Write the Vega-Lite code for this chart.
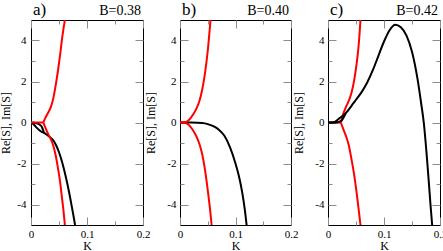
{
  "$schema": "https://vega.github.io/schema/vega-lite/v6.json",
  "padding": {"left": -1, "top": 0, "right": 0, "bottom": 0},
  "background": "white",
  "datasets": {
    "a": [
      {"curve": "b1", "col": "black", "K": 0, "S": 0},
      {"curve": "b1", "col": "black", "K": 0.005, "S": -0.01},
      {"curve": "b1", "col": "black", "K": 0.01, "S": -0.04},
      {"curve": "b1", "col": "black", "K": 0.015, "S": -0.1},
      {"curve": "b1", "col": "black", "K": 0.019, "S": -0.2},
      {"curve": "b1", "col": "black", "K": 0.023, "S": -0.5},
      {"curve": "b2", "col": "black", "K": 0, "S": 0},
      {"curve": "b2", "col": "black", "K": 0.005, "S": -0.1},
      {"curve": "b2", "col": "black", "K": 0.01, "S": -0.25},
      {"curve": "b2", "col": "black", "K": 0.015, "S": -0.38},
      {"curve": "b2", "col": "black", "K": 0.019, "S": -0.46},
      {"curve": "b2", "col": "black", "K": 0.023, "S": -0.5},
      {"curve": "b2", "col": "black", "K": 0.03, "S": -0.63},
      {"curve": "b2", "col": "black", "K": 0.035, "S": -0.74},
      {"curve": "b2", "col": "black", "K": 0.04, "S": -0.88},
      {"curve": "b2", "col": "black", "K": 0.045, "S": -1.12},
      {"curve": "b2", "col": "black", "K": 0.05, "S": -1.45},
      {"curve": "b2", "col": "black", "K": 0.055, "S": -1.88},
      {"curve": "b2", "col": "black", "K": 0.06, "S": -2.4},
      {"curve": "b2", "col": "black", "K": 0.065, "S": -3.0},
      {"curve": "b2", "col": "black", "K": 0.07, "S": -3.68},
      {"curve": "b2", "col": "black", "K": 0.075, "S": -4.42},
      {"curve": "b2", "col": "black", "K": 0.0787, "S": -5},
      {"curve": "r0", "col": "red", "K": 0, "S": 0},
      {"curve": "r0", "col": "red", "K": 0.022, "S": 0},
      {"curve": "r1", "col": "red", "K": 0.022, "S": 0},
      {"curve": "r1", "col": "red", "K": 0.026, "S": 0.25},
      {"curve": "r1", "col": "red", "K": 0.031, "S": 0.5},
      {"curve": "r1", "col": "red", "K": 0.036, "S": 0.8},
      {"curve": "r1", "col": "red", "K": 0.04, "S": 1.2},
      {"curve": "r1", "col": "red", "K": 0.044, "S": 1.8},
      {"curve": "r1", "col": "red", "K": 0.048, "S": 2.5},
      {"curve": "r1", "col": "red", "K": 0.052, "S": 3.3},
      {"curve": "r1", "col": "red", "K": 0.056, "S": 4.2},
      {"curve": "r1", "col": "red", "K": 0.0605, "S": 5},
      {"curve": "r2", "col": "red", "K": 0.022, "S": 0},
      {"curve": "r2", "col": "red", "K": 0.026, "S": -0.28},
      {"curve": "r2", "col": "red", "K": 0.031, "S": -0.58},
      {"curve": "r2", "col": "red", "K": 0.036, "S": -0.85},
      {"curve": "r2", "col": "red", "K": 0.04, "S": -1.15},
      {"curve": "r2", "col": "red", "K": 0.044, "S": -1.6},
      {"curve": "r2", "col": "red", "K": 0.048, "S": -2.2},
      {"curve": "r2", "col": "red", "K": 0.052, "S": -2.9},
      {"curve": "r2", "col": "red", "K": 0.055, "S": -3.6},
      {"curve": "r2", "col": "red", "K": 0.058, "S": -4.3},
      {"curve": "r2", "col": "red", "K": 0.0605, "S": -5}
    ],
    "b": [
      {"curve": "b1", "col": "black", "K": 0, "S": 0},
      {"curve": "b1", "col": "black", "K": 0.02, "S": -0.005},
      {"curve": "b1", "col": "black", "K": 0.04, "S": -0.03},
      {"curve": "b1", "col": "black", "K": 0.05, "S": -0.08},
      {"curve": "b1", "col": "black", "K": 0.06, "S": -0.18},
      {"curve": "b1", "col": "black", "K": 0.07, "S": -0.35},
      {"curve": "b1", "col": "black", "K": 0.08, "S": -0.65},
      {"curve": "b1", "col": "black", "K": 0.09, "S": -1.2},
      {"curve": "b1", "col": "black", "K": 0.1, "S": -2.0},
      {"curve": "b1", "col": "black", "K": 0.106, "S": -2.6},
      {"curve": "b1", "col": "black", "K": 0.112, "S": -3.4},
      {"curve": "b1", "col": "black", "K": 0.117, "S": -4.3},
      {"curve": "b1", "col": "black", "K": 0.12, "S": -5},
      {"curve": "r1", "col": "red", "K": 0, "S": 0},
      {"curve": "r1", "col": "red", "K": 0.008, "S": 0.01},
      {"curve": "r1", "col": "red", "K": 0.015, "S": 0.1},
      {"curve": "r1", "col": "red", "K": 0.02, "S": 0.25},
      {"curve": "r1", "col": "red", "K": 0.025, "S": 0.45},
      {"curve": "r1", "col": "red", "K": 0.03, "S": 0.7},
      {"curve": "r1", "col": "red", "K": 0.035, "S": 1.05},
      {"curve": "r1", "col": "red", "K": 0.04, "S": 1.6},
      {"curve": "r1", "col": "red", "K": 0.045, "S": 2.4},
      {"curve": "r1", "col": "red", "K": 0.05, "S": 3.5},
      {"curve": "r1", "col": "red", "K": 0.055, "S": 5},
      {"curve": "r2", "col": "red", "K": 0, "S": 0},
      {"curve": "r2", "col": "red", "K": 0.008, "S": -0.01},
      {"curve": "r2", "col": "red", "K": 0.015, "S": -0.1},
      {"curve": "r2", "col": "red", "K": 0.02, "S": -0.25},
      {"curve": "r2", "col": "red", "K": 0.025, "S": -0.45},
      {"curve": "r2", "col": "red", "K": 0.03, "S": -0.7},
      {"curve": "r2", "col": "red", "K": 0.035, "S": -1.05},
      {"curve": "r2", "col": "red", "K": 0.04, "S": -1.55},
      {"curve": "r2", "col": "red", "K": 0.045, "S": -2.3},
      {"curve": "r2", "col": "red", "K": 0.05, "S": -3.3},
      {"curve": "r2", "col": "red", "K": 0.054, "S": -4.2},
      {"curve": "r2", "col": "red", "K": 0.057, "S": -5}
    ],
    "c": [
      {"curve": "b1", "col": "black", "K": 0, "S": 0},
      {"curve": "b1", "col": "black", "K": 0.008, "S": 0},
      {"curve": "b1", "col": "black", "K": 0.012, "S": 0.03},
      {"curve": "b1", "col": "black", "K": 0.018, "S": 0.15},
      {"curve": "b1", "col": "black", "K": 0.024, "S": 0.28},
      {"curve": "b1", "col": "black", "K": 0.031, "S": 0.42},
      {"curve": "b2", "col": "black", "K": 0, "S": 0},
      {"curve": "b2", "col": "black", "K": 0.008, "S": 0},
      {"curve": "b2", "col": "black", "K": 0.015, "S": 0.005},
      {"curve": "b2", "col": "black", "K": 0.02, "S": 0.03},
      {"curve": "b2", "col": "black", "K": 0.025, "S": 0.12},
      {"curve": "b2", "col": "black", "K": 0.028, "S": 0.25},
      {"curve": "b2", "col": "black", "K": 0.031, "S": 0.42},
      {"curve": "b2", "col": "black", "K": 0.035, "S": 0.56},
      {"curve": "b2", "col": "black", "K": 0.04, "S": 0.74},
      {"curve": "b2", "col": "black", "K": 0.045, "S": 0.93},
      {"curve": "b2", "col": "black", "K": 0.05, "S": 1.11},
      {"curve": "b2", "col": "black", "K": 0.06, "S": 1.48},
      {"curve": "b2", "col": "black", "K": 0.07, "S": 1.95},
      {"curve": "b2", "col": "black", "K": 0.08, "S": 2.55},
      {"curve": "b2", "col": "black", "K": 0.09, "S": 3.25},
      {"curve": "b2", "col": "black", "K": 0.1, "S": 3.95},
      {"curve": "b2", "col": "black", "K": 0.11, "S": 4.5},
      {"curve": "b2", "col": "black", "K": 0.12, "S": 4.77},
      {"curve": "b2", "col": "black", "K": 0.13, "S": 4.65},
      {"curve": "b2", "col": "black", "K": 0.14, "S": 4.25},
      {"curve": "b2", "col": "black", "K": 0.15, "S": 3.45},
      {"curve": "b2", "col": "black", "K": 0.16, "S": 2.1},
      {"curve": "b2", "col": "black", "K": 0.166, "S": 1.0},
      {"curve": "b2", "col": "black", "K": 0.171, "S": 0},
      {"curve": "b2", "col": "black", "K": 0.176, "S": -1.5},
      {"curve": "b2", "col": "black", "K": 0.18, "S": -2.9},
      {"curve": "b2", "col": "black", "K": 0.183, "S": -4.0},
      {"curve": "b2", "col": "black", "K": 0.186, "S": -5},
      {"curve": "r0", "col": "red", "K": 0, "S": 0},
      {"curve": "r0", "col": "red", "K": 0.023, "S": 0},
      {"curve": "r1", "col": "red", "K": 0.023, "S": 0},
      {"curve": "r1", "col": "red", "K": 0.027, "S": 0.4},
      {"curve": "r1", "col": "red", "K": 0.032, "S": 0.75},
      {"curve": "r1", "col": "red", "K": 0.037, "S": 1.05},
      {"curve": "r1", "col": "red", "K": 0.042, "S": 1.45},
      {"curve": "r1", "col": "red", "K": 0.047, "S": 2.1},
      {"curve": "r1", "col": "red", "K": 0.051, "S": 2.85},
      {"curve": "r1", "col": "red", "K": 0.054, "S": 3.55},
      {"curve": "r1", "col": "red", "K": 0.056, "S": 4.2},
      {"curve": "r1", "col": "red", "K": 0.058, "S": 5},
      {"curve": "r2", "col": "red", "K": 0.023, "S": 0},
      {"curve": "r2", "col": "red", "K": 0.027, "S": -0.3},
      {"curve": "r2", "col": "red", "K": 0.032, "S": -0.65},
      {"curve": "r2", "col": "red", "K": 0.037, "S": -1.1},
      {"curve": "r2", "col": "red", "K": 0.042, "S": -1.8},
      {"curve": "r2", "col": "red", "K": 0.047, "S": -2.6},
      {"curve": "r2", "col": "red", "K": 0.051, "S": -3.4},
      {"curve": "r2", "col": "red", "K": 0.055, "S": -4.3},
      {"curve": "r2", "col": "red", "K": 0.058, "S": -5}
    ]
  },
  "bounds": "flush",
  "spacing": 37,
  "hconcat": [
    {
      "width": 112, "height": 205,
      "layer": [
        {
          "data": {"name": "a"},
          "transform": [{"filter": "datum.col == 'black'"}],
          "mark": {"type": "line", "color": "black", "strokeWidth": 2, "clip": true, "interpolate": "monotone"},
          "encoding": {
            "x": {"field": "K", "type": "quantitative", "scale": {"domain": [0, 0.2], "nice": false, "zero": false},
              "axis": {"orient": "bottom", "values": [0, 0.05, 0.1, 0.15, 0.2], "tickSize": {"condition": {"test": "abs(datum.value*10-round(datum.value*10))>0.001", "value": -4}, "value": -8}, "labelExpr": "abs(datum.value*10-round(datum.value*10))>0.001 ? '' : toString(datum.value)", "labelPadding": 11, "labelFlush": false, "labelOverlap": false, "title": "K", "titlePadding": -3}},
            "y": {"field": "S", "type": "quantitative", "scale": {"domain": [-5, 5], "nice": false, "zero": false},
              "axis": {"orient": "left", "values": [-4, -3, -2, -1, 0, 1, 2, 3, 4], "tickSize": {"condition": {"test": "datum.value % 2 != 0", "value": -4}, "value": -8}, "labelExpr": "datum.value % 2 != 0 ? '' : toString(datum.value)", "labelPadding": 13, "labelOverlap": false, "title": "Re[S], Im[S]", "titlePadding": 4}},
            "detail": {"field": "curve"}
          }
        },
        {
          "data": {"name": "a"},
          "transform": [{"filter": "datum.col == 'red'"}],
          "mark": {"type": "line", "color": "#ff0000", "strokeWidth": 2, "clip": true, "interpolate": "monotone"},
          "encoding": {
            "x": {"field": "K", "type": "quantitative", "axis": {"orient": "top", "values": [0, 0.05, 0.1, 0.15, 0.2], "tickSize": {"condition": {"test": "abs(datum.value*10-round(datum.value*10))>0.001", "value": -4}, "value": -8}, "labels": false, "title": null}},
            "y": {"field": "S", "type": "quantitative", "axis": {"orient": "right", "values": [-4, -3, -2, -1, 0, 1, 2, 3, 4], "tickSize": {"condition": {"test": "datum.value % 2 != 0", "value": -4}, "value": -8}, "labels": false, "title": null}},
            "detail": {"field": "curve"}
          }
        },
        {
          "data": {"values": [{"label": "a)"}]},
          "mark": {"type": "text", "align": "left", "baseline": "alphabetic", "dx": 2, "dy": -5.5, "fontSize": 17, "font": "Liberation Serif, Times New Roman, serif", "color": "black"},
          "encoding": {"x": {"datum": 0, "type": "quantitative", "axis": null}, "y": {"datum": 5, "type": "quantitative", "axis": null}, "text": {"field": "label"}}
        },
        {
          "data": {"values": [{"label": "B=0.38"}]},
          "mark": {"type": "text", "align": "right", "baseline": "alphabetic", "dx": -2, "dy": -5, "fontSize": 14, "font": "Liberation Serif, Times New Roman, serif", "color": "black"},
          "encoding": {"x": {"datum": 0.2, "type": "quantitative", "axis": null}, "y": {"datum": 5, "type": "quantitative", "axis": null}, "text": {"field": "label"}}
        }
      ],
      "resolve": {"axis": {"x": "independent", "y": "independent"}}
    },
    {
      "width": 111, "height": 205,
      "layer": [
        {
          "data": {"name": "b"},
          "transform": [{"filter": "datum.col == 'black'"}],
          "mark": {"type": "line", "color": "black", "strokeWidth": 2, "clip": true, "interpolate": "monotone"},
          "encoding": {
            "x": {"field": "K", "type": "quantitative", "scale": {"domain": [0, 0.2], "nice": false, "zero": false},
              "axis": {"orient": "bottom", "values": [0, 0.05, 0.1, 0.15, 0.2], "tickSize": {"condition": {"test": "abs(datum.value*10-round(datum.value*10))>0.001", "value": -4}, "value": -8}, "labelExpr": "abs(datum.value*10-round(datum.value*10))>0.001 ? '' : toString(datum.value)", "labelPadding": 11, "labelFlush": false, "labelOverlap": false, "title": "K", "titlePadding": -3}},
            "y": {"field": "S", "type": "quantitative", "scale": {"domain": [-5, 5], "nice": false, "zero": false},
              "axis": {"orient": "left", "values": [-4, -3, -2, -1, 0, 1, 2, 3, 4], "tickSize": {"condition": {"test": "datum.value % 2 != 0", "value": -4}, "value": -8}, "labelExpr": "datum.value % 2 != 0 ? '' : toString(datum.value)", "labelPadding": 12, "labelOverlap": false, "title": "Re[S], Im[S]", "titlePadding": 9}},
            "detail": {"field": "curve"}
          }
        },
        {
          "data": {"name": "b"},
          "transform": [{"filter": "datum.col == 'red'"}],
          "mark": {"type": "line", "color": "#ff0000", "strokeWidth": 2, "clip": true, "interpolate": "monotone"},
          "encoding": {
            "x": {"field": "K", "type": "quantitative", "axis": {"orient": "top", "values": [0, 0.05, 0.1, 0.15, 0.2], "tickSize": {"condition": {"test": "abs(datum.value*10-round(datum.value*10))>0.001", "value": -4}, "value": -8}, "labels": false, "title": null}},
            "y": {"field": "S", "type": "quantitative", "axis": {"orient": "right", "values": [-4, -3, -2, -1, 0, 1, 2, 3, 4], "tickSize": {"condition": {"test": "datum.value % 2 != 0", "value": -4}, "value": -8}, "labels": false, "title": null}},
            "detail": {"field": "curve"}
          }
        },
        {
          "data": {"values": [{"label": "b)"}]},
          "mark": {"type": "text", "align": "left", "baseline": "alphabetic", "dx": 2, "dy": -5.5, "fontSize": 17, "font": "Liberation Serif, Times New Roman, serif", "color": "black"},
          "encoding": {"x": {"datum": 0, "type": "quantitative", "axis": null}, "y": {"datum": 5, "type": "quantitative", "axis": null}, "text": {"field": "label"}}
        },
        {
          "data": {"values": [{"label": "B=0.40"}]},
          "mark": {"type": "text", "align": "right", "baseline": "alphabetic", "dx": -2, "dy": -5, "fontSize": 14, "font": "Liberation Serif, Times New Roman, serif", "color": "black"},
          "encoding": {"x": {"datum": 0.2, "type": "quantitative", "axis": null}, "y": {"datum": 5, "type": "quantitative", "axis": null}, "text": {"field": "label"}}
        }
      ],
      "resolve": {"axis": {"x": "independent", "y": "independent"}}
    },
    {
      "width": 112, "height": 205,
      "layer": [
        {
          "data": {"name": "c"},
          "transform": [{"filter": "datum.col == 'red'"}],
          "mark": {"type": "line", "color": "#ff0000", "strokeWidth": 2, "clip": true, "interpolate": "monotone"},
          "encoding": {
            "x": {"field": "K", "type": "quantitative", "scale": {"domain": [0, 0.2], "nice": false, "zero": false},
              "axis": {"orient": "bottom", "values": [0, 0.05, 0.1, 0.15, 0.2], "tickSize": {"condition": {"test": "abs(datum.value*10-round(datum.value*10))>0.001", "value": -4}, "value": -8}, "labelExpr": "abs(datum.value*10-round(datum.value*10))>0.001 ? '' : toString(datum.value)", "labelPadding": 11, "labelFlush": false, "labelOverlap": false, "title": "K", "titlePadding": -3}},
            "y": {"field": "S", "type": "quantitative", "scale": {"domain": [-5, 5], "nice": false, "zero": false},
              "axis": {"orient": "left", "values": [-4, -3, -2, -1, 0, 1, 2, 3, 4], "tickSize": {"condition": {"test": "datum.value % 2 != 0", "value": -4}, "value": -8}, "labelExpr": "datum.value % 2 != 0 ? '' : toString(datum.value)", "labelPadding": 12, "labelOverlap": false, "title": "Re[S], Im[S]", "titlePadding": 9}},
            "detail": {"field": "curve"}
          }
        },
        {
          "data": {"name": "c"},
          "transform": [{"filter": "datum.col == 'black'"}],
          "mark": {"type": "line", "color": "black", "strokeWidth": 2, "clip": true, "interpolate": "monotone"},
          "encoding": {
            "x": {"field": "K", "type": "quantitative", "axis": {"orient": "top", "values": [0, 0.05, 0.1, 0.15, 0.2], "tickSize": {"condition": {"test": "abs(datum.value*10-round(datum.value*10))>0.001", "value": -4}, "value": -8}, "labels": false, "title": null}},
            "y": {"field": "S", "type": "quantitative", "axis": {"orient": "right", "values": [-4, -3, -2, -1, 0, 1, 2, 3, 4], "tickSize": {"condition": {"test": "datum.value % 2 != 0", "value": -4}, "value": -8}, "labels": false, "title": null}},
            "detail": {"field": "curve"}
          }
        },
        {
          "data": {"values": [{"label": "c)"}]},
          "mark": {"type": "text", "align": "left", "baseline": "alphabetic", "dx": 2, "dy": -5.5, "fontSize": 17, "font": "Liberation Serif, Times New Roman, serif", "color": "black"},
          "encoding": {"x": {"datum": 0, "type": "quantitative", "axis": null}, "y": {"datum": 5, "type": "quantitative", "axis": null}, "text": {"field": "label"}}
        },
        {
          "data": {"values": [{"label": "B=0.42"}]},
          "mark": {"type": "text", "align": "right", "baseline": "alphabetic", "dx": -2, "dy": -5, "fontSize": 14, "font": "Liberation Serif, Times New Roman, serif", "color": "black"},
          "encoding": {"x": {"datum": 0.2, "type": "quantitative", "axis": null}, "y": {"datum": 5, "type": "quantitative", "axis": null}, "text": {"field": "label"}}
        }
      ],
      "resolve": {"axis": {"x": "independent", "y": "independent"}}
    }
  ],
  "config": {
    "view": {"stroke": "black", "strokeWidth": 1},
    "axis": {"domain": false, "grid": false, "tickColor": "#8c8c8c", "tickWidth": 1, "labelFont": "Liberation Serif, Times New Roman, serif", "labelFontSize": 11, "labelColor": "black", "titleFont": "Liberation Serif, Times New Roman, serif", "titleFontSize": 12, "titleFontWeight": "normal", "titleColor": "black"}
  }
}
